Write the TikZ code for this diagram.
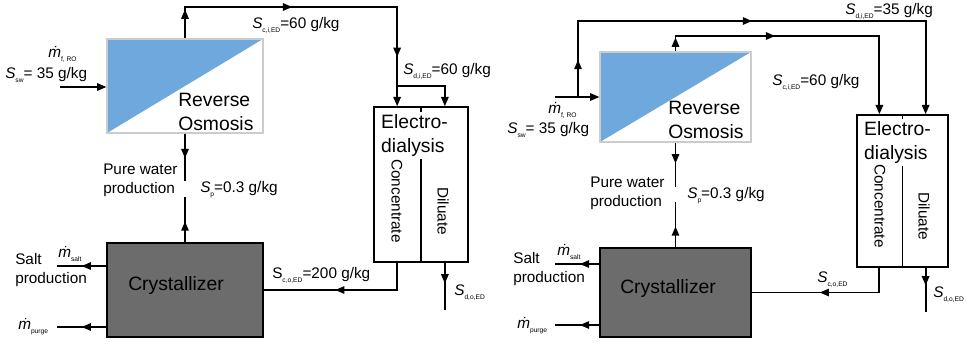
\documentclass[tikz,border=0pt]{standalone}
\usepackage{fontspec}
\setmainfont{Liberation Sans}
\usepackage{tikz}
\usetikzlibrary{arrows.meta,calc,decorations.markings}

\definecolor{roblue}{RGB}{111,168,220}
\definecolor{crygray}{RGB}{108,108,108}
\newcommand{\subtxt}[1]{\raisebox{-0.5ex}{\fontsize{5}{5}\selectfont #1}}
\newcommand{\mflow}{\textit{\.{m}}}
\newcommand{\sflow}{\textit{S}}

\begin{document}
\begin{tikzpicture}[x=0.75pt,y=-0.75pt,>={Triangle[length=7pt,width=5.5pt]},
  flow/.style={line width=1.4pt},
  mid/.style={postaction={decorate,decoration={markings,mark=at position #1 with {\arrow{>}}}}},
  robox/.style={draw=black!20,line width=0.8pt,fill=white,inner sep=0pt,
    path picture={\fill[roblue] (path picture bounding box.north west) -- (path picture bounding box.north east) -- (path picture bounding box.south west) -- cycle;}},
  crybox/.style={draw=black,line width=1.2pt,fill=crygray,inner sep=0pt},
  edbox/.style={draw=black,line width=1.1pt,fill=white,inner sep=0pt},
  big/.style={font=\fontsize{14.5}{17.5}\selectfont,inner sep=0pt,align=left},
  lbl/.style={font=\fontsize{11.5}{14}\selectfont,inner sep=0pt,align=left}]
\useasboundingbox (0,0) rectangle (967,344);

\node[robox,minimum width=117pt,minimum height=70.5pt] (ro1) at (185,86) {};
\node[big,anchor=base west] (ro1txt) at (178,130) {Reverse\\Osmosis};
\node[crybox,minimum width=117pt,minimum height=70.5pt] (cr1) at (185,290) {};
\node[big,anchor=base west] (cr1txt) at (128,290) {Crystallizer};
\node[edbox,minimum width=70.5pt,minimum height=116.25pt] (ed1) at (421,184.5) {};
\draw[line width=0.9pt] (ed1.north) -- (ed1.south);
\node[big,anchor=base west,fill=white,inner sep=2pt] (ed1txt) at (378.3,152) {Electro-\\dialysis};
\node[lbl,rotate=-90] (ed1con) at (397,201) {Concentrate};
\node[lbl,rotate=-90] (ed1dil) at (443,211) {Diluate};
\coordinate (ed1c) at ($(ed1.north)!0.5!(ed1.north west)$);
\coordinate (ed1d) at ($(ed1.north)!0.5!(ed1.north east)$);
\coordinate (ed1e) at ($(ed1.south)!0.5!(ed1.south west)$);
\coordinate (ed1f) at ($(ed1.south)!0.5!(ed1.south east)$);

\coordinate (sw1) at (60,87);
\coordinate (pw1a) at (185,181);
\coordinate (pw1b) at (185,197);
\coordinate (salt1) at (57,266);
\coordinate (purge1) at (57,327);
\coordinate (dil1) at (444,310);
\draw[flow,->] (sw1) -- (sw1 -| ro1.west);
\draw[flow,mid=0.09,mid=0.43,mid=0.91] (ro1.north) -- (ro1.north |- 0,7) -- (ed1c |- 0,7) -- (ed1c |- 0,86) coordinate (spl1);
\draw[flow,->] (spl1) -- (ed1c);
\draw[flow,->] (spl1) -- (ed1d |- spl1) -- (ed1d);
\draw[flow,mid=0.52] (ro1.south) -- (pw1a);
\draw[flow,mid=0.46] (cr1.north) -- (pw1b);
\draw[flow,mid=0.5] (salt1 -| cr1.west) -- (salt1);
\draw[flow,mid=0.5] (purge1 -| cr1.west) -- (purge1);
\draw[flow,mid=0.556] (ed1e) |- (cr1.east);
\draw[flow,mid=0.44] (ed1f) -- (ed1f |- dil1);

\node[lbl,anchor=base west] (mf1) at (48,57) {\mflow\subtxt{f, RO}};
\node[lbl,anchor=base west] (ssw1) at (5,78) {\sflow\subtxt{sw}= 35 g/kg};
\node[lbl,anchor=base west] (sci1) at (252,28) {\sflow\subtxt{c,i,ED}=60 g/kg};
\node[lbl,anchor=base west] (sdi1) at (403,74) {\sflow\subtxt{d,i,ED}=60 g/kg};
\node[lbl,anchor=base west] (pw1) at (103,193) {Pure water\\production};
\node[lbl,anchor=base west] (sp1) at (200,192) {\sflow\subtxt{p}=0.3 g/kg};
\node[lbl,anchor=base west] (salt1txt) at (15,283) {Salt\\production};
\node[lbl,anchor=base west] (ms1) at (58,257) {\mflow\subtxt{salt}};
\node[lbl,anchor=base west] (mp1) at (18,329) {\mflow\subtxt{purge}};
\node[lbl,anchor=base west] (sco1) at (272,278) {S\subtxt{c,o,ED}=200 g/kg};
\node[lbl,anchor=base west] (sdo1) at (454,295) {\sflow\subtxt{d,o,ED}};

\node[robox,minimum width=113.25pt,minimum height=67.5pt] (ro2) at (675.5,97) {};
\node[big,anchor=base west] (ro2txt) at (668,138) {Reverse\\Osmosis};
\node[crybox,minimum width=113.25pt,minimum height=66.75pt] (cr2) at (675.5,292.5) {};
\node[big,anchor=base west] (cr2txt) at (620,293) {Crystallizer};
\node[edbox,minimum width=68.25pt,minimum height=114pt] (ed2) at (902.5,191) {};
\draw[line width=0.9pt] (ed2.north) -- (ed2.south);
\node[big,anchor=base west,fill=white,inner sep=2pt] (ed2txt) at (861.3,159) {Electro-\\dialysis};
\node[lbl,rotate=-90] (ed2con) at (880,206) {Concentrate};
\node[lbl,rotate=-90] (ed2dil) at (924,216) {Diluate};
\coordinate (ed2c) at ($(ed2.north)!0.5!(ed2.north west)$);
\coordinate (ed2d) at ($(ed2.north)!0.5!(ed2.north east)$);
\coordinate (ed2e) at ($(ed2.south)!0.5!(ed2.south west)$);
\coordinate (ed2f) at ($(ed2.south)!0.5!(ed2.south east)$);

\coordinate (sw2) at (555,97);
\coordinate (br2) at (578,97);
\coordinate (pw2a) at (675.5,187);
\coordinate (pw2b) at (675.5,202);
\coordinate (salt2) at (555,264);
\coordinate (purge2) at (555,325);
\coordinate (dil2) at (925,312);
\draw[flow,->] (sw2) -- (sw2 -| ro2.west);
\draw[flow,mid=0.072,mid=0.484,->] (br2) -- (br2 |- 0,21) -- (ed2d |- 0,21) -- (ed2d);
\draw[flow,mid=0.047,mid=0.387,->] (ro2.north) -- (ro2.north |- 0,36) -- (ed2c |- 0,36) -- (ed2c);
\draw[flow,mid=0.47] (ro2.south) -- (pw2a);
\draw[flow,mid=0.46] (cr2.north) -- (pw2b);
\draw[flow,mid=0.44] (salt2 -| cr2.west) -- (salt2);
\draw[flow,mid=0.44] (purge2 -| cr2.west) -- (purge2);
\draw[flow,mid=0.555] (ed2e) |- (cr2.east);
\draw[flow,mid=0.4] (ed2f) -- (ed2f |- dil2);

\node[lbl,anchor=base west] (mf2) at (548,113) {\mflow\subtxt{f, RO}};
\node[lbl,anchor=base west] (ssw2) at (507,133) {\sflow\subtxt{sw}= 35 g/kg};
\node[lbl,anchor=base west] (sdi2) at (845,14) {\sflow\subtxt{d,i,ED}=35 g/kg};
\node[lbl,anchor=base west] (sci2) at (772,85) {\sflow\subtxt{c,i,ED}=60 g/kg};
\node[lbl,anchor=base west] (pw2) at (590,206) {Pure water\\production};
\node[lbl,anchor=base west] (sp2) at (687,198) {\sflow\subtxt{p}=0.3 g/kg};
\node[lbl,anchor=base west] (salt2txt) at (513,282) {Salt\\production};
\node[lbl,anchor=base west] (ms2) at (557,255) {\mflow\subtxt{salt}};
\node[lbl,anchor=base west] (mp2) at (517,328) {\mflow\subtxt{purge}};
\node[lbl,anchor=base west] (sco2) at (817,282) {\sflow\subtxt{c,o,ED}};
\node[lbl,anchor=base west] (sdo2) at (933,297) {\sflow\subtxt{d,o,ED}};
\end{tikzpicture}
\end{document}
